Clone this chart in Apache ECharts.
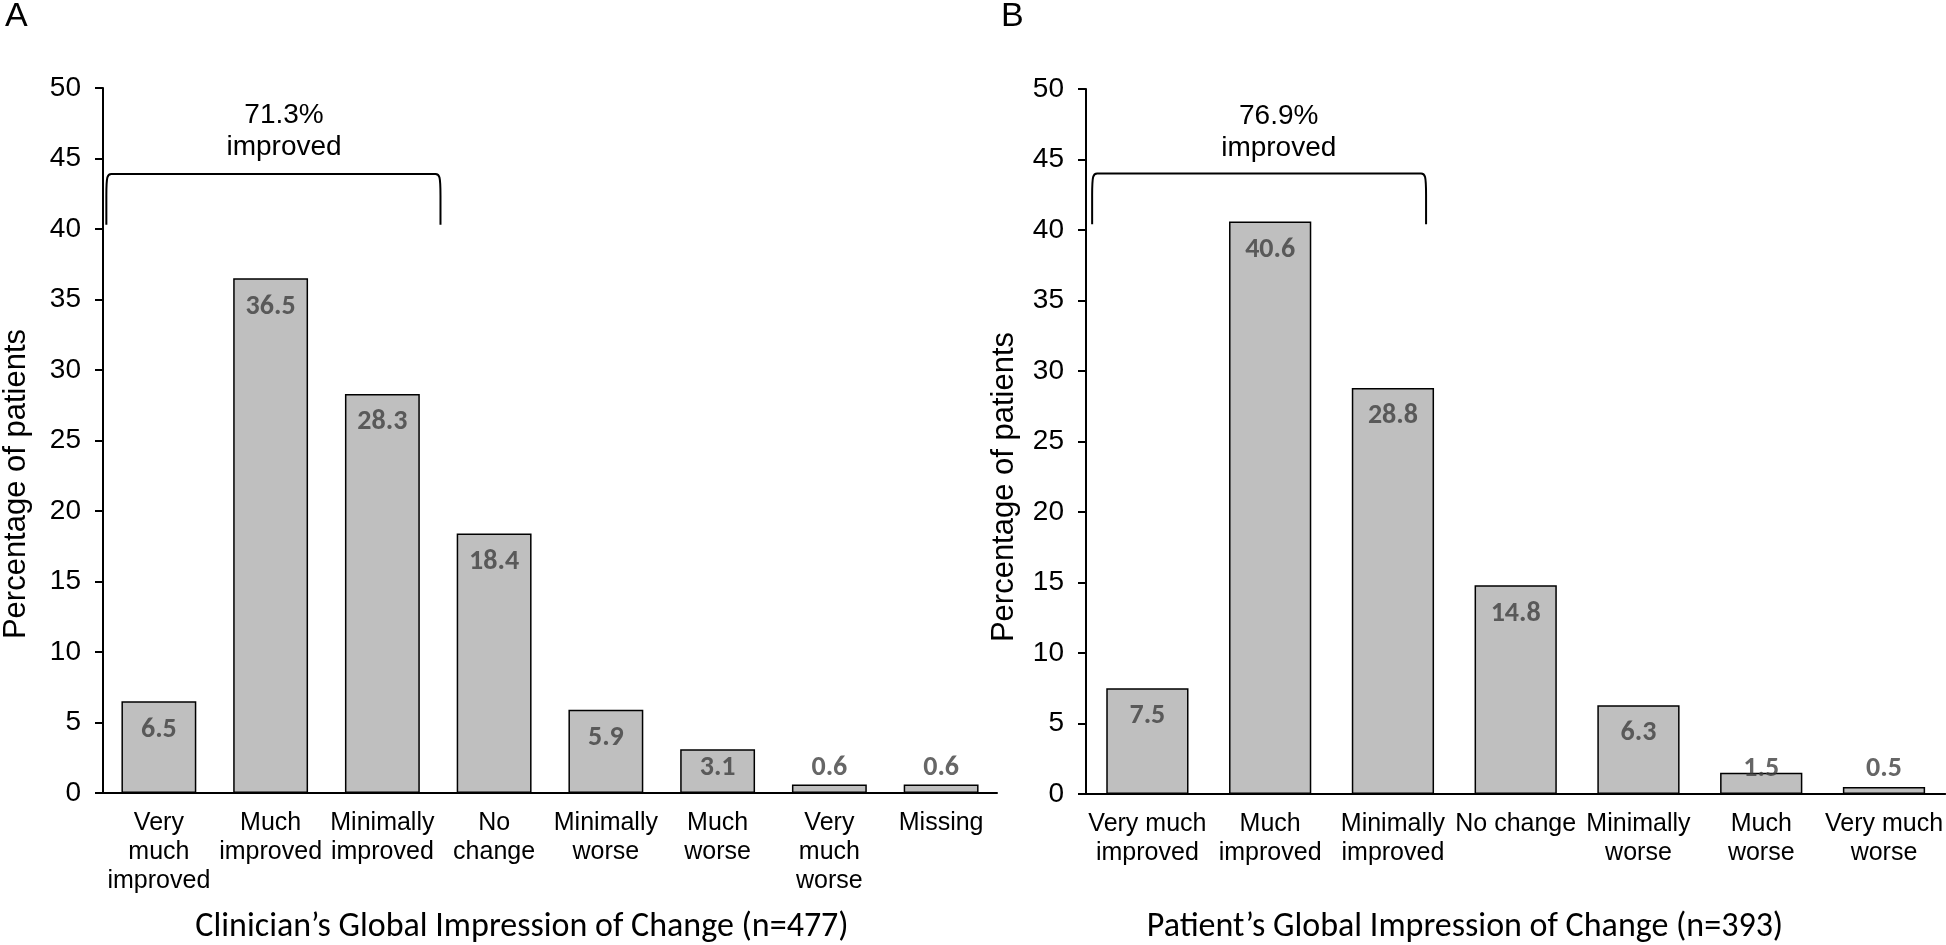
<!DOCTYPE html>
<html>
<head>
<meta charset="utf-8">
<script src="https://cdn.jsdelivr.net/npm/echarts@6/dist/echarts.min.js"></script>
<style>
html,body{margin:0;padding:0;background:#fff;}
#chart{width:1946px;height:945px;}
</style>
</head>
<body>
<div id="chart"></div>
<script>
// ---- data ----
const categoriesA = ['Very\nmuch\nimproved', 'Much\nimproved', 'Minimally\nimproved', 'No\nchange', 'Minimally\nworse', 'Much\nworse', 'Very\nmuch\nworse', 'Missing'];
const valuesA = [6.5, 36.5, 28.3, 18.4, 5.9, 3.1, 0.6, 0.6];
const categoriesB = ['Very much\nimproved', 'Much\nimproved', 'Minimally\nimproved', 'No change', 'Minimally\nworse', 'Much\nworse', 'Very much\nworse'];
const valuesB = [7.5, 40.6, 28.8, 14.8, 6.3, 1.5, 0.5];
const yTicks = [0, 5, 10, 15, 20, 25, 30, 35, 40, 45, 50];
const panelLetters = ['A', 'B'];
const xTitles = ['Clinician\u2019s Global Impression of Change (n=477)', 'Patient\u2019s Global Impression of Change (n=393)'];
const yTitle = 'Percentage of patients';
const bracketTextA = '71.3%\nimproved';
const bracketTextB = '76.9%\nimproved';

const ARIAL = '"Liberation Sans", Arial, sans-serif';
const CALIBRI = 'Carlito, Lato, "Open Sans", sans-serif';

function labelPos(vals) { return vals.map(v => Math.max(v - 2, 1.8)); }

function bracketSeries(gridIdx, x0, x1, yTop, yBot, txt, txtX, txtY) {
  return {
    type: 'custom', xAxisIndex: gridIdx, yAxisIndex: gridIdx, silent: true, clip: false, z: 5,
    data: [[0, 0]],
    renderItem: function (params, api) {
      const p0 = api.coord([0, yTop]);
      const p1 = api.coord([1, yBot]);
      const step = p1[0] - p0[0];
      const base = p0[0];
      const X = i => base + i * step;
      const xl = X(x0), xr = X(x1);
      const yt = p0[1], yb = p1[1];
      const r1 = 22, r2 = 5;
      const d = 'M' + xl + ' ' + yb + ' L' + xl + ' ' + (yt + r1) +
        ' C' + xl + ' ' + (yt + 2) + ' ' + (xl + 1) + ' ' + yt + ' ' + (xl + r2) + ' ' + yt +
        ' L' + (xr - r2) + ' ' + yt +
        ' C' + (xr - 1) + ' ' + yt + ' ' + xr + ' ' + (yt + 2) + ' ' + xr + ' ' + (yt + r1) +
        ' L' + xr + ' ' + yb;
      const tp = api.coord([0, txtY]);
      return {
        type: 'group',
        children: [
          { type: 'path', shape: { pathData: d }, style: { stroke: '#000', fill: null, lineWidth: 2 } },
          { type: 'text', style: { text: txt, x: X(txtX), y: tp[1], align: 'center', verticalAlign: 'middle', fontFamily: ARIAL, fontSize: 28, fill: '#000', lineHeight: 32 } }
        ]
      };
    }
  };
}

function yAxisCfg(gridIdx) {
  return {
    type: 'value', gridIndex: gridIdx, min: yTicks[0], max: yTicks[yTicks.length - 1], interval: 5,
    axisLine: { show: true, lineStyle: { color: '#000', width: 2 } },
    axisTick: { show: true, length: 8, lineStyle: { color: '#000', width: 2 } },
    axisLabel: { fontFamily: ARIAL, fontSize: 28, color: '#000', margin: 22 },
    splitLine: { show: false }
  };
}
function xAxisCfg(gridIdx, cats) {
  return {
    type: 'category', gridIndex: gridIdx, data: cats,
    axisLine: { show: true, lineStyle: { color: '#000', width: 2 } },
    axisTick: { show: false },
    axisLabel: { interval: 0, fontFamily: ARIAL, fontSize: 25, lineHeight: 29, color: '#000', margin: 16, verticalAlign: 'top' }
  };
}
function barSeries(gridIdx, vals) {
  return {
    type: 'bar', xAxisIndex: gridIdx, yAxisIndex: gridIdx, data: vals, barWidth: '67%', silent: true,
    itemStyle: { color: '#BFBFBF', borderColor: '#000', borderWidth: 1.5 }
  };
}
function labelSeries(gridIdx, vals) {
  return {
    type: 'scatter', xAxisIndex: gridIdx, yAxisIndex: gridIdx, data: labelPos(vals), symbolSize: 1,
    itemStyle: { color: 'rgba(0,0,0,0)' }, silent: true, z: 6,
    label: {
      show: true, position: 'inside',
      formatter: p => vals[p.dataIndex].toFixed(1),
      fontFamily: CALIBRI, fontWeight: 'bold', fontSize: 28, color: '#404040'
    }
  };
}

const chart = echarts.init(document.getElementById('chart'), null, { renderer: 'canvas' });
chart.setOption({
  backgroundColor: '#fff',
  animation: false,
  title: [
    { text: panelLetters[0], left: 5, top: 0, padding: 0, textStyle: { fontFamily: ARIAL, fontSize: 34, fontWeight: 'normal', color: '#000' } },
    { text: panelLetters[1], left: 1001, top: 0, padding: 0, textStyle: { fontFamily: ARIAL, fontSize: 34, fontWeight: 'normal', color: '#000' } }
  ],
  grid: [
    { left: 103, top: 88, width: 894, height: 705 },
    { left: 1086, top: 89, width: 860, height: 705 }
  ],
  xAxis: [xAxisCfg(0, categoriesA), xAxisCfg(1, categoriesB)],
  yAxis: [yAxisCfg(0), yAxisCfg(1)],
  series: [
    barSeries(0, valuesA), labelSeries(0, valuesA),
    barSeries(1, valuesB), labelSeries(1, valuesB),
    bracketSeries(0, -0.47, 2.52, 43.9, 40.3, bracketTextA, 1.12, 46.9),
    bracketSeries(1, -0.45, 2.27, 44.0, 40.4, bracketTextB, 1.07, 46.9)
  ],
  graphic: [
    { type: 'text', x: 16, y: 484, rotation: Math.PI / 2, style: { text: yTitle, fontFamily: ARIAL, fontSize: 31, fill: '#000', align: 'center', verticalAlign: 'middle' } },
    { type: 'text', x: 1004, y: 487, rotation: Math.PI / 2, style: { text: yTitle, fontFamily: ARIAL, fontSize: 31, fill: '#000', align: 'center', verticalAlign: 'middle' } },
    { type: 'text', x: 522, y: 927, style: { text: xTitles[0], fontFamily: CALIBRI, fontSize: 34, fill: '#000', align: 'center', verticalAlign: 'middle' } },
    { type: 'text', x: 1465, y: 927, style: { text: xTitles[1], fontFamily: CALIBRI, fontSize: 34, fill: '#000', align: 'center', verticalAlign: 'middle' } }
  ]
});
</script>
</body>
</html>
